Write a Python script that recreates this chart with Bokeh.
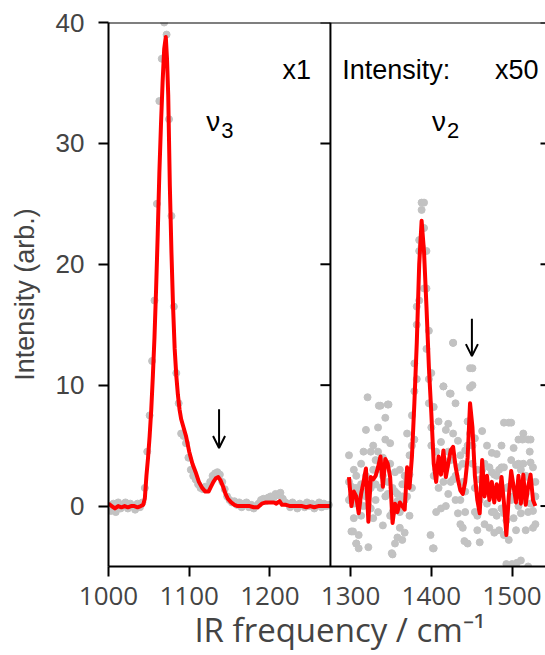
import numpy as np
from bokeh.plotting import figure
from bokeh.models import Range1d, FixedTicker, Span, Label, Arrow, OpenHead
from bokeh.embed import file_html
from bokeh.resources import INLINE

# ---------------- data ----------------
# left panel (v3 band, intensity x1): smoothed spectrum
left_line_x = [1000, 1004, 1008, 1012, 1016, 1020, 1024, 1028, 1032, 1036, 1040, 1043, 1045, 1047,
               1049, 1051, 1053, 1055, 1057, 1059, 1061, 1063, 1065, 1067, 1069, 1071, 1072.5, 1074,
               1076, 1078, 1080, 1082, 1084, 1086, 1088, 1090, 1093, 1096, 1100, 1104, 1108, 1112,
               1116, 1120, 1124, 1127, 1130, 1133, 1136, 1139, 1142, 1145, 1148, 1152, 1156, 1160,
               1165, 1170, 1175, 1180, 1185, 1190, 1195, 1200, 1205, 1208, 1212, 1215, 1220, 1225,
               1230, 1235, 1240, 1245, 1250, 1255, 1260, 1265, 1270, 1275]
left_line_y = [0.2, 0.0, -0.2, 0.0, -0.1, 0.0, -0.1, 0.0, 0.0, -0.1, 0.0, 0.1, 0.6, 2.5,
               4.0, 5.8, 8.0, 10.8, 14.0, 18.0, 22.5, 27.5, 31.5, 35.0, 37.8, 38.8, 37.0, 34.0,
               26.5, 21.0, 16.5, 13.0, 10.8, 9.2, 8.0, 7.2, 6.5, 5.8, 4.5, 3.5, 2.8, 2.0,
               1.5, 1.2, 1.2, 1.6, 2.0, 2.3, 2.4, 2.1, 1.6, 1.0, 0.6, 0.3, 0.1, 0.0,
               0.0, 0.0, 0.0, -0.1, -0.1, 0.2, 0.3, 0.3, 0.3, 0.2, 0.4, 0.1, 0.1, 0.0,
               0.0, 0.0, 0.0, -0.1, 0.0, -0.1, 0.0, 0.0, 0.0, 0.0]

# left panel raw data points (every 3 cm-1 from 1003 to 1273)
left_dots_x = list(range(1003, 1274, 3))
left_dots_y = [-0.4, 0.2, -0.5, 0.3, -0.2, 0.1, 0.3, -0.2, 0.2, 0.0,
               -0.3, 0.2, -0.1, 0.3, 1.5, 4.5, 7.5, 12.0, 17.0, 25.0,
               33.5, 37.0, 40.0, 39.0, 32.0, 24.0, 16.5, 11.0, 8.5, 6.0,
               5.8, 5.2, 4.0, 3.0, 2.5, 2.2, 1.8, 1.5, 1.4, 1.6,
               1.5, 2.0, 2.5, 2.7, 2.8, 2.6, 2.0, 1.4, 0.8, 0.5,
               0.3, 0.4, 0.1, 0.3, -0.1, 0.2, 0.3, -0.1, 0.1, -0.2,
               0.0, 0.2, 0.5, 0.6, 0.4, 0.7, 0.8, 0.6, 1.0, 0.9,
               1.1, 0.6, 0.3, 0.2, -0.1, 0.3, 0.1, -0.2, 0.2, 0.1,
               -0.1, 0.3, 0.0, 0.2, -0.2, 0.1, 0.3, -0.1, 0.2, 0.0,
               0.1]

# right panel (v2 band, intensity x50): every 3 cm-1 from 1298 to 1529
right_x = list(range(1298, 1530, 3))
right_line_y = [2.4, 0.0, 1.2, 0.8, -0.6, 1.0, 2.0, 3.1, -1.3, 2.4,
                2.2, 2.5, 3.2, 4.1, 1.6, 3.9, 3.5, 2.4, -1.4, 0.2,
                -0.5, 0.3, 0.0, -0.3, 3.2, 1.5, 4.1, 8.5, 13.5, 20.0,
                23.6, 21.0, 16.5, 11.5, 7.7, 3.5, 2.0, 4.1, 2.6, 4.6,
                2.4, 3.5, 4.6, 4.9, 3.3, 2.2, 1.3, 1.0, 2.0, 4.0,
                8.5, 6.5, 2.5, 0.5, -0.6, 3.8, 0.8, 2.5, 0.5, 2.0,
                0.3, 1.8, 0.5, 2.4, 0.3, -2.4, 0.8, 2.9, 1.6, 0.3,
                2.5, 0.2, 2.6, 0.1, 1.6, 2.6, 0.5, 0.0]
right_dots_a = [4.2, 1.6, 3.0, 2.5, 1.0, 3.5, 4.5, 6.3, 1.2, 4.5,
                5.0, 3.8, 6.5, 8.3, 4.0, 7.3, 8.4, 5.2, 1.5, 2.8,
                1.0, 3.0, 1.8, 2.5, 6.0, 4.2, 7.5, 11.8, 15.0, 21.1,
                25.1, 25.1, 21.1, 14.5, 11.0, 8.2, 4.5, 7.0, 5.3, 9.9,
                6.3, 6.8, 9.3, 13.5, 8.5, 5.4, 4.2, 3.5, 4.6, 7.0,
                11.4, 10.0, 5.6, 3.0, 2.2, 6.2, 3.5, 5.0, 3.2, 4.4,
                2.6, 4.3, 3.0, 5.0, 3.2, 1.5, 6.9, 6.9, 4.8, 3.4,
                5.5, 3.0, 6.0, 2.5, 5.5, 5.5, 3.2, 2.0]
right_dots_b = [0.5, -2.1, -1.0, -3.1, -2.4, -0.8, 0.0, 0.8, -3.4, -0.2,
                -1.0, 0.5, -0.5, 1.5, -1.6, 0.8, 1.0, -0.8, -4.0, -3.1,
                -2.6, -1.8, -2.8, -2.2, 0.8, -0.8, 1.5, 5.5, 10.5, 17.0,
                21.5, 18.0, 13.0, 8.5, 5.0, -3.5, -0.5, 1.5, -0.2, 2.0,
                0.0, 1.0, 2.0, 2.2, 0.5, -0.6, -1.5, -1.8, -0.5, -3.1,
                6.0, 3.5, -0.5, -2.0, -3.0, 1.0, -1.5, 0.2, -1.8, -0.5,
                -2.2, -0.8, -2.0, -0.2, -2.4, -4.8, -2.8, 0.5, -1.0, -2.0,
                0.0, -4.5, 0.5, -2.0, -0.5, 0.2, -1.8, -1.5]
right_dots_c = [2.0, 0.8, 0.2, 1.5, 0.3, 1.8, 1.2, 2.5, 0.0, 1.5,
                3.0, 1.8, 4.5, 3.0, 2.5, 5.5, 2.0, 3.5, -0.5, 1.2,
                0.4, -0.5, 0.8, 0.5, 2.2, 2.6, 5.0, 9.5, 16.5, 22.0,
                24.5, 23.0, 18.0, 10.5, 6.5, 2.5, 3.0, 3.2, 3.5, 3.8,
                3.3, 4.5, 3.8, 6.0, 2.5, 3.2, 0.5, 2.0, 1.2, 5.0,
                9.8, 5.0, 1.5, -0.8, 0.5, 3.0, 1.8, 1.5, 1.2, 2.8,
                -0.5, 2.5, 1.3, 3.2, -0.6, -1.2, 1.6, 3.8, 0.8, 1.2,
                3.5, -0.6, 3.5, 1.0, 2.4, 3.6, -0.4, 0.8]
right_extra_x = [1303, 1307, 1310, 1321, 1335, 1347, 1351, 1399, 1402, 1415,
                 1423, 1427, 1441, 1451, 1490, 1500, 1506, 1513, 1520, 1522]
right_extra_y = [-2.1, -3.1, -3.5, 9.0, 8.3, 8.4, -3.9, -2.4, -3.5, 9.9,
                 9.3, 13.5, -2.9, 11.4, 6.9, -4.8, -4.7, 5.5, -5.0, 4.5]

x_ticks = [1000, 1100, 1200, 1300, 1400, 1500]
y_ticks = [0, 10, 20, 30, 40]
x_min, x_max = 1000, 1541.5
y_min, y_max = -5, 40
panel_break = 1275

x_title = "\u00a0\u00a0\u00a0IR frequency / cm\u207b\u00b9"
y_title = "Intensity (arb.)"

# text annotations
scale_labels = [("x1", 1251, 36.1, "right"), ("Intensity:", 1289.5, 36.1, "left"),
                ("x50", 1479, 36.1, "left")]
band_labels = [("ν", "3", 1121, 31.8), ("ν", "2", 1401, 31.8)]
arrows = [(1137, 8.0, 4.8), (1450.3, 15.5, 12.4)]

# ---------------- figure ----------------
ARIAL = "Liberation Sans"
CAL = "Open Sans"

p = figure(width=545, height=655, x_range=Range1d(x_min, x_max), y_range=Range1d(y_min, y_max),
           output_backend="svg", toolbar_location=None,
           min_border_left=108, min_border_right=0, min_border_top=22, min_border_bottom=89,
           x_axis_label=x_title, y_axis_label=y_title)
p.outline_line_color = None
p.xgrid.visible = False
p.ygrid.visible = False
p.background_fill_color = "white"
p.border_fill_color = "white"

xa = p.xaxis[0]
xa.ticker = FixedTicker(ticks=x_ticks)
xa.major_tick_out = 10
xa.major_tick_in = 0
xa.minor_tick_line_color = None
xa.axis_line_width = 2
xa.major_tick_line_width = 2
xa.major_label_text_font = CAL
xa.major_label_text_font_size = "26px"
xa.major_label_standoff = 10
xa.axis_label_text_font = CAL
xa.axis_label_text_font_size = "33px"
xa.axis_label_text_font_style = "normal"
xa.axis_label_standoff = -1

ya = p.yaxis[0]
ya.ticker = FixedTicker(ticks=y_ticks)
ya.major_tick_out = 10
ya.major_tick_in = 0
ya.minor_tick_line_color = None
ya.axis_line_width = 2
ya.major_tick_line_width = 2
ya.major_label_text_font = ARIAL
ya.major_label_text_font_size = "26px"
ya.major_label_standoff = 14
ya.axis_label_text_font = ARIAL
ya.axis_label_text_font_size = "27px"
ya.axis_label_text_font_style = "normal"
ya.axis_label_standoff = 13

# top frame line
p.add_layout(Span(location=y_max, dimension="width", line_color="black", line_width=2))
# right-edge inward ticks
p.ray(x=[x_max] * len(y_ticks), y=y_ticks, length=5, length_units="screen",
      angle=np.pi, line_color="black", line_width=2)
# panel divider with inward ticks
p.add_layout(Span(location=panel_break, dimension="height", line_color="black", line_width=2))
p.ray(x=[panel_break] * len(y_ticks), y=y_ticks, length=10, length_units="screen",
      angle=np.pi, line_color="black", line_width=2)

# raw data points
dot_kw = dict(size=7, color="#c2c2c2", marker="circle")
p.scatter(left_dots_x, left_dots_y, **dot_kw)
p.scatter(right_x, right_dots_a, **dot_kw)
p.scatter(right_x, right_dots_b, **dot_kw)
p.scatter(right_x, right_dots_c, **dot_kw)
p.scatter(right_extra_x, right_extra_y, **dot_kw)

# smoothed spectra
p.line(left_line_x, left_line_y, line_color="#ff0000", line_width=4, line_join="round")
p.line(right_x, right_line_y, line_color="#ff0000", line_width=4, line_join="round")

for txt, x, y, al in scale_labels:
    p.add_layout(Label(x=x, y=y, text=txt, text_align=al, text_baseline="alphabetic",
                       text_font=ARIAL, text_font_size="27px", text_color="black"))
for nu, sub, x, y in band_labels:
    p.add_layout(Label(x=x, y=y, text=nu, text_baseline="alphabetic", text_font=ARIAL,
                       text_font_size="28px", text_color="black"))
    p.add_layout(Label(x=x, y=y, x_offset=15, y_offset=-9, text=sub, text_baseline="alphabetic",
                       text_font=ARIAL, text_font_size="22px", text_color="black"))
for x, y0, y1 in arrows:
    p.add_layout(Arrow(end=OpenHead(size=12, line_width=2, line_color="black"),
                       x_start=x, y_start=y0, x_end=x, y_end=y1,
                       line_width=2, line_color="black"))

open("out.html", "w").write(file_html(p, INLINE))
